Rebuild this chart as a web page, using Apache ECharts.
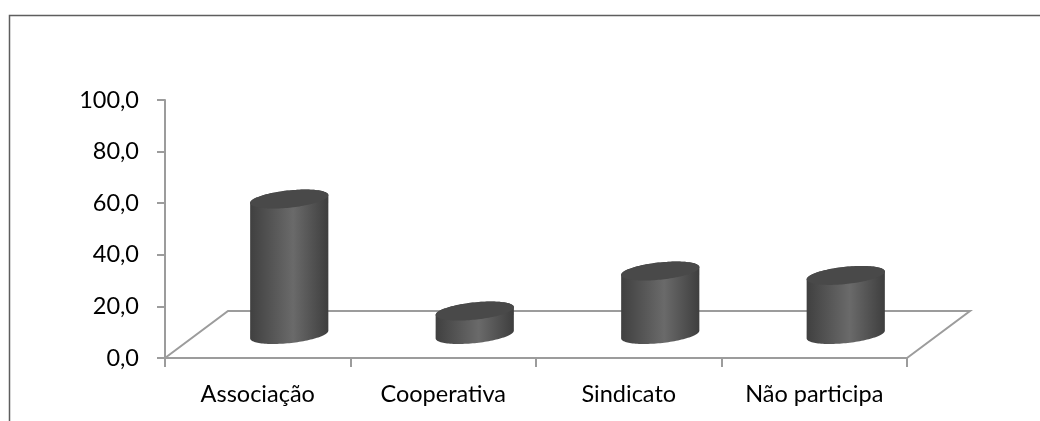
<!DOCTYPE html>
<html><head><meta charset="utf-8">
<style>html,body{margin:0;padding:0;background:#fff}#c{width:1040px;height:421px}</style>
<script src="https://cdn.jsdelivr.net/npm/echarts@6/dist/echarts.min.js"></script>
</head><body><div id="c"></div>
<script>
const categories = ['Associação', 'Cooperativa', 'Sindicato', 'Não participa'];
const values = [52.5, 9.1, 24.6, 22.9];
const yTicks = [0, 20, 40, 60, 80, 100];

const FONT = 'Lato, "Open Sans", sans-serif';
const AXIS = '#9c9c9c';
const DEPTH_X = 63, DEPTH_Y = 47;
const RX = 39.3, RY = 8.6, TILT = 6 * Math.PI / 180;

const chart = echarts.init(document.getElementById('c'), null, {renderer: 'canvas'});

function bodyGradient() {
  return new echarts.graphic.LinearGradient(0, 0, 1, 0, [
    {offset: 0, color: '#404040'},
    {offset: 0.55, color: '#6a6a6a'},
    {offset: 1, color: '#3e3e3e'}
  ]);
}

function ellipsePoint(cx, cy, t) {
  const ex = RX * Math.cos(t), ey = RY * Math.sin(t);
  return [cx + ex * Math.cos(TILT) + ey * Math.sin(TILT), cy - ex * Math.sin(TILT) + ey * Math.cos(TILT)];
}

function renderFloor(params, api) {
  const cs = params.coordSys;
  const x0 = cs.x, x1 = cs.x + cs.width, y = cs.y + cs.height;
  return {
    type: 'polyline',
    shape: {points: [[x0, y], [x0 + DEPTH_X, y - DEPTH_Y], [x1 + DEPTH_X, y - DEPTH_Y], [x1, y]]},
    style: {fill: null, stroke: AXIS, lineWidth: 2},
    silent: true
  };
}

function renderCylinder(params, api) {
  const top = api.coord([api.value(0), api.value(1)]);
  const base = api.coord([api.value(0), 0]);
  const cx = top[0] + DEPTH_X / 2;
  const yT = top[1] - DEPTH_Y / 2;
  const yB = base[1] - DEPTH_Y / 2;
  // parameter at which the tilted ellipse reaches its rightmost point
  const t0 = Math.atan2(RY * Math.sin(TILT), RX * Math.cos(TILT));
  const N = 60;
  const cap = [], front = [], back = [];
  for (let i = 0; i < 2 * N; i++) cap.push(ellipsePoint(cx, yT, t0 + Math.PI * i / N));
  for (let i = 0; i <= N; i++) front.push(ellipsePoint(cx, yB, t0 + Math.PI * i / N));
  // the body runs up behind the cap, so no seam shows where they meet
  for (let i = N; i <= 2 * N; i++) back.push(ellipsePoint(cx, yT, t0 + Math.PI * i / N));
  return {
    type: 'group',
    children: [
      {type: 'polygon', shape: {points: front.concat(back)}, style: {fill: bodyGradient()}},
      {type: 'polygon', shape: {points: cap}, style: {fill: '#494949'}}
    ]
  };
}

chart.setOption({
  animation: false,
  backgroundColor: '#fff',
  graphic: [{
    type: 'rect', silent: true, z: -1,
    shape: {x: 9.5, y: 15.5, width: 1100, height: 600},
    style: {fill: null, stroke: '#5e5e5e', lineWidth: 1.5}
  }],
  grid: {left: 165, right: 133, top: 100, bottom: 63, containLabel: false},
  xAxis: {
    type: 'category', data: categories,
    axisLine: {lineStyle: {color: AXIS, width: 2}},
    axisTick: {show: true, alignWithLabel: false, length: 9, lineStyle: {color: AXIS, width: 2}},
    axisLabel: {color: '#000', fontFamily: FONT, fontSize: 23.5, margin: 24},
    splitLine: {show: false}
  },
  yAxis: {
    type: 'value', min: yTicks[0], max: yTicks[yTicks.length - 1], interval: yTicks[1] - yTicks[0],
    axisLine: {show: true, lineStyle: {color: AXIS, width: 2}},
    axisTick: {show: true, length: 8, lineStyle: {color: AXIS, width: 2}},
    axisLabel: {color: '#000', fontFamily: FONT, fontSize: 23.5, margin: 26, formatter: v => v.toFixed(1).replace('.', ',')},
    splitLine: {show: false}
  },
  series: [
    {type: 'custom', z: 1, renderItem: renderFloor, data: [[0, 0]], encode: {x: 0, y: 1}, clip: false, silent: true},
    {type: 'custom', z: 2, renderItem: renderCylinder, data: values.map((v, i) => [i, v]), encode: {x: 0, y: 1}, clip: false}
  ]
});
</script></body></html>
